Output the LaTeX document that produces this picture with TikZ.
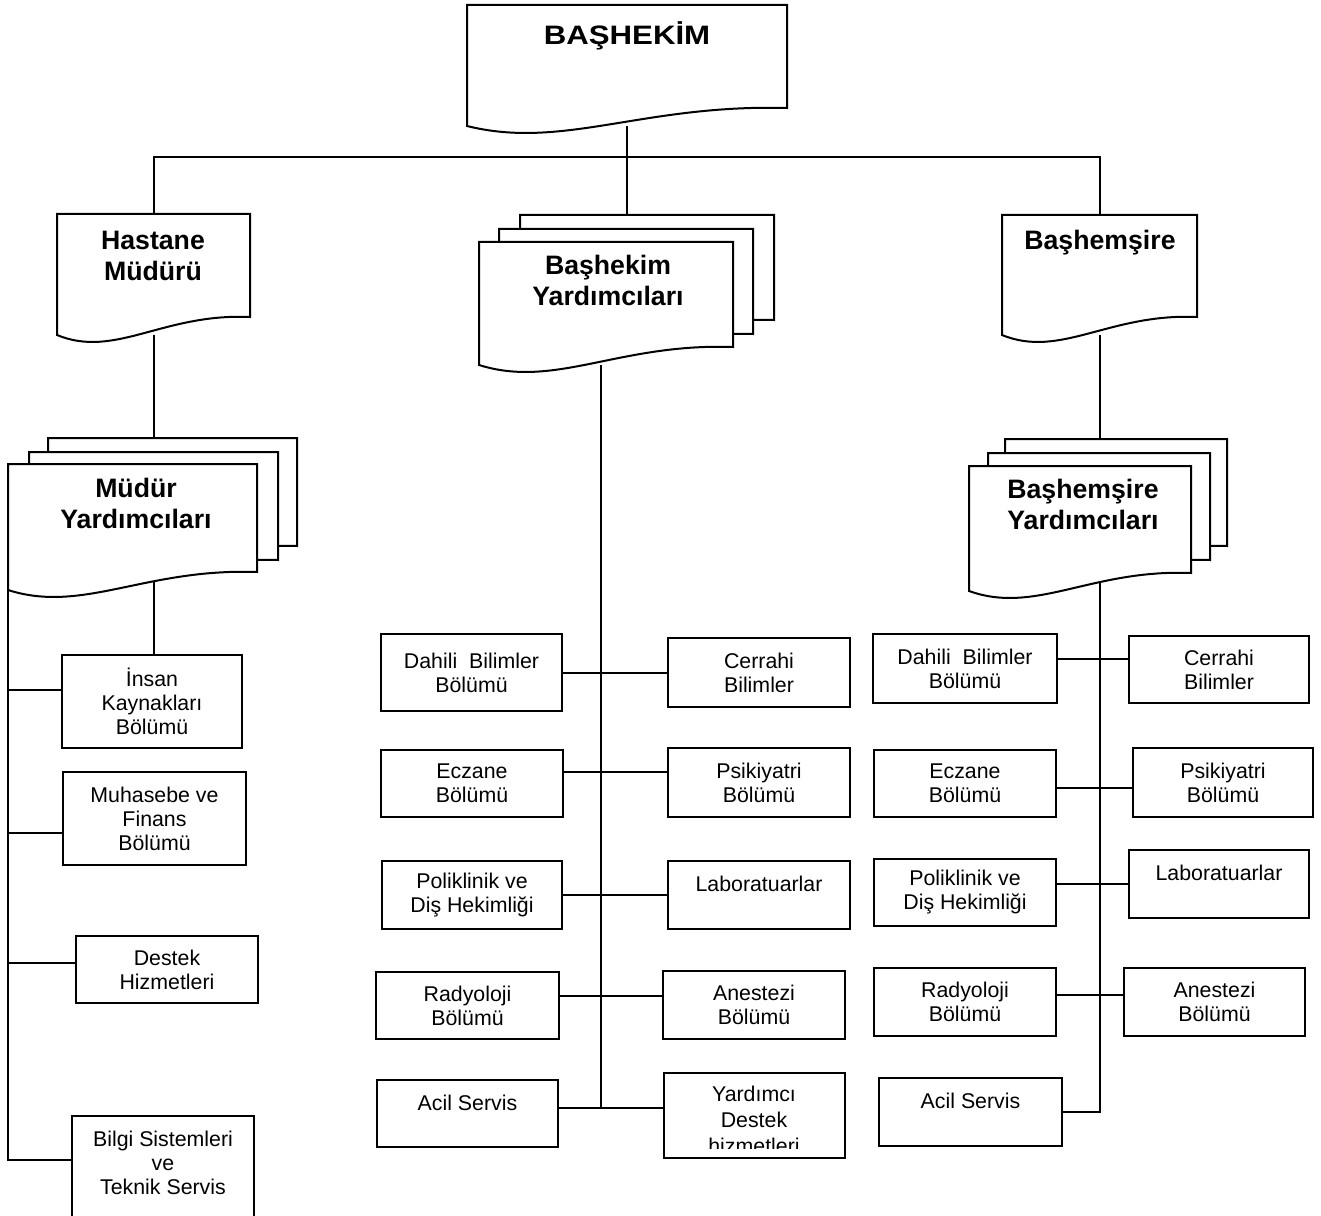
\documentclass[tikz,border=0pt]{standalone}
\usepackage{fontspec}
\usepackage{graphicx}
\setmainfont{Liberation Sans}
\usetikzlibrary{calc,fit}

\tikzset{every picture/.style={line width=1.5pt}}
\tikzset{
docbox/.style={draw=none, inner sep=0pt, outer sep=0pt},
box/.style={draw, fill=white, inner sep=0pt, outer sep=0pt},
boxtext/.style={inner sep=0pt, align=center, font=\fontsize{16}{18}\selectfont},
headtext/.style={inner sep=0pt, align=center, font=\bfseries\fontsize{20}{23.25}\selectfont}}

% page with a wavy bottom, #2 = shift of the sheet
\newcommand{\docframe}[2]{%
\draw [fill=white] ($(#1.north west)+(#2)$) -- ($(#1.north east)+(#2)$) -- ($(#1.south east)+(0,-18)+(#2)$) .. controls ($(#1.south west)!0.55!(#1.south east)+(0,-22)+(#2)$) and ($(#1.south west)!0.3!(#1.south east)+(0,24)+(#2)$) .. ($(#1.south west)+(#2)$) -- cycle ;}

\begin{document}
\begin{tikzpicture}[x=0.75pt,y=0.75pt,yscale=-1,xscale=1]
\path [use as bounding box, clip] (0,0) rectangle (1321,1216);
\fill [white] (0,0) rectangle (1321,1216);

%Document shapes
\node [docbox, fit={(467,5) (787,126)}] (bashekim) {};
\node [docbox, fit={(57,214) (250,335)}] (hastane) {};
\node [docbox, fit={(1002,215) (1197,335)}] (bashemsire) {};
\node [docbox, fit={(479,242) (733,365)}] (bhyard) {};
\node [docbox, fit={(8,464) (257,590)}] (mudyard) {};
\node [docbox, fit={(969,466) (1191,591)}] (bsyard) {};

%Left column
\node [box, fit={(62,655) (242,748)}, label={[boxtext, name=insan-t]center:{İnsan\\Kaynakları\\Bölümü}}] (insan) {};
\node [box, fit={(63,772) (246,865)}, label={[boxtext, name=muhasebe-t]center:{Muhasebe ve\\Finans\\Bölümü}}] (muhasebe) {};
\node [box, fit={(76,936) (258,1003)}, label={[boxtext, name=destek-t]center:{Destek\\Hizmetleri}}] (destek) {};
\node [box, fit={(72,1116) (254,1240)}] (bilgi) {};

%Middle column
\node [box, fit={(381,634) (562,711)}, label={[boxtext, name=dahili1-t]center:{Dahili~ Bilimler\\Bölümü}}] (dahili1) {};
\node [box, fit={(381,750) (563,817)}, label={[boxtext, name=eczane1-t]center:{Eczane\\Bölümü}}] (eczane1) {};
\node [box, fit={(382,861) (562,929)}, label={[boxtext, name=polik1-t]center:{Poliklinik ve\\Diş Hekimliği}}] (polik1) {};
\node [box, fit={(376,972) (559,1039)}, label={[boxtext, name=rad1-t]center:{Radyoloji\\Bölümü}}] (rad1) {};
\node [box, fit={(377,1080) (558,1147)}] (acil1) {};
\node [box, fit={(668,638) (850,707)}, label={[boxtext, name=cerrahi1-t]center:{Cerrahi\\Bilimler}}] (cerrahi1) {};
\node [box, fit={(668,748) (850,817)}, label={[boxtext, name=psik1-t]center:{Psikiyatri\\Bölümü}}] (psik1) {};
\node [box, fit={(668,861) (850,929)}] (lab1) {};
\node [box, fit={(663,971) (845,1039)}, label={[boxtext, name=anes1-t]center:{Anestezi\\Bölümü}}] (anes1) {};
\node [box, fit={(664,1073) (845,1158)}] (yard) {};

%Right column
\node [box, fit={(873,634) (1057,703)}, label={[boxtext, name=dahili2-t]center:{Dahili~ Bilimler\\Bölümü}}] (dahili2) {};
\node [box, fit={(874,750) (1056,817)}, label={[boxtext, name=eczane2-t]center:{Eczane\\Bölümü}}] (eczane2) {};
\node [box, fit={(874,859) (1056,926)}, label={[boxtext, name=polik2-t]center:{Poliklinik ve\\Diş Hekimliği}}] (polik2) {};
\node [box, fit={(874,968) (1056,1036)}, label={[boxtext, name=rad2-t]center:{Radyoloji\\Bölümü}}] (rad2) {};
\node [box, fit={(879,1078) (1062,1146)}] (acil2) {};
\node [box, fit={(1129,636) (1309,703)}, label={[boxtext, name=cerrahi2-t]center:{Cerrahi\\Bilimler}}] (cerrahi2) {};
\node [box, fit={(1133,748) (1313,817)}, label={[boxtext, name=psik2-t]center:{Psikiyatri\\Bölümü}}] (psik2) {};
\node [box, fit={(1129,850) (1309,918)}] (lab2) {};
\node [box, fit={(1124,968) (1305,1036)}, label={[boxtext, name=anes2-t]center:{Anestezi\\Bölümü}}] (anes2) {};

%Top level lines
\draw (bashekim.south) -- ++(0,31) coordinate (bus) ;
\draw (hastane.north) |- (bus) -| (bashemsire.north) ;
\draw (bus) -- (bus |- bhyard.north) ;

%Left lines
\draw (hastane.south) -- (hastane.south |- insan.north) ;
\coordinate (insan-in) at ($(insan.west)+(0,-12)$);
\coordinate (muhasebe-in) at ($(muhasebe.west)+(0,14)$);
\coordinate (destek-in) at ($(destek.west)+(0,-7)$);
\coordinate (bilgi-in) at ($(bilgi.north west)+(0,44)$);
\draw (mudyard.south west) |- (bilgi-in) ;
\draw (mudyard.south west) |- (insan-in) ;
\draw (mudyard.south west) |- (muhasebe-in) ;
\draw (mudyard.south west) |- (destek-in) ;

%Middle lines
\coordinate (bhyard-out) at ($(bhyard.south)+(-5,0)$);
\draw (dahili1.east) -- (cerrahi1.west) ;
\draw ($(eczane1.east)+(0,-12)$) coordinate (m2) -- (m2 -| psik1.west) ;
\draw (polik1.east) -- (lab1.west) ;
\draw ($(rad1.east)+(0,-10)$) coordinate (m4) -- (m4 -| anes1.west) ;
\draw ($(acil1.east)+(0,-6)$) coordinate (m5) -- (m5 -| yard.west) ;
\draw (bhyard-out) -- (bhyard-out |- m5) ;

%Right lines
\draw ($(dahili2.east)+(0,-10)$) coordinate (r1) -- (r1 -| cerrahi2.west) ;
\draw ($(eczane2.east)+(0,4)$) coordinate (r2) -- (r2 -| psik2.west) ;
\draw ($(polik2.east)+(0,-9)$) coordinate (r3) -- (r3 -| lab2.west) ;
\draw ($(rad2.east)+(0,-7)$) coordinate (r4) -- (r4 -| anes2.west) ;
\draw (bashemsire.south) -- (bashemsire.south |- acil2.east) -- (acil2.east) ;

%Sheets
\docframe{bashekim}{0,0}
\docframe{hastane}{0,0}
\docframe{bashemsire}{0,0}
\docframe{bhyard}{41,-27}
\docframe{bhyard}{20,-13}
\docframe{bhyard}{0,0}
\docframe{mudyard}{40,-26}
\docframe{mudyard}{21,-12}
\docframe{mudyard}{0,0}
\docframe{bsyard}{36,-27}
\docframe{bsyard}{19,-13}
\docframe{bsyard}{0,0}

% Text Node
\node [headtext, anchor=base] (bashekim-t) at (627,45) {\scalebox{1.17}[1]{BAŞHEKİM}};
% Text Node
\node [headtext] (hastane-t) at (153,256) {Hastane\\Müdürü};
% Text Node
\node [headtext] (bhyard-t) at (608,280.5) {Başhekim\\Yardımcıları};
% Text Node
\node [headtext, anchor=base] (bashemsire-t) at (1100,250) {Başhemşire};
% Text Node
\node [headtext] (mudyard-t) at (136,503.5) {Müdür\\Yardımcıları};
% Text Node
\node [headtext] (bsyard-t) at (1083,504) {Başhemşire\\Yardımcıları};
% Text Node
\node [boxtext] (bilgi-t) at (163,1163) {Bilgi Sistemleri\\ve\\Teknik Servis};
% Text Node
\node [boxtext, anchor=base] (acil1-t) at (467.5,1110) {Acil Servis};
% Text Node
\node [boxtext, anchor=base] (lab1-t) at (759,891) {Laboratuarlar};
% Text Node
\node [boxtext, anchor=base] (acil2-t) at (970.5,1108) {Acil Servis};
% Text Node
\node [boxtext, anchor=base] (lab2-t) at (1219,880) {Laboratuarlar};
% Text Node
\begin{scope}
\clip (yard.north west) rectangle ($(yard.south east)+(0,-10)$);
\node [boxtext, font=\fontsize{16}{19.5}\selectfont] (yard-t) at (754,1120) {Yardımcı\\Destek\\hizmetleri};
\end{scope}

\end{tikzpicture}
\end{document}
